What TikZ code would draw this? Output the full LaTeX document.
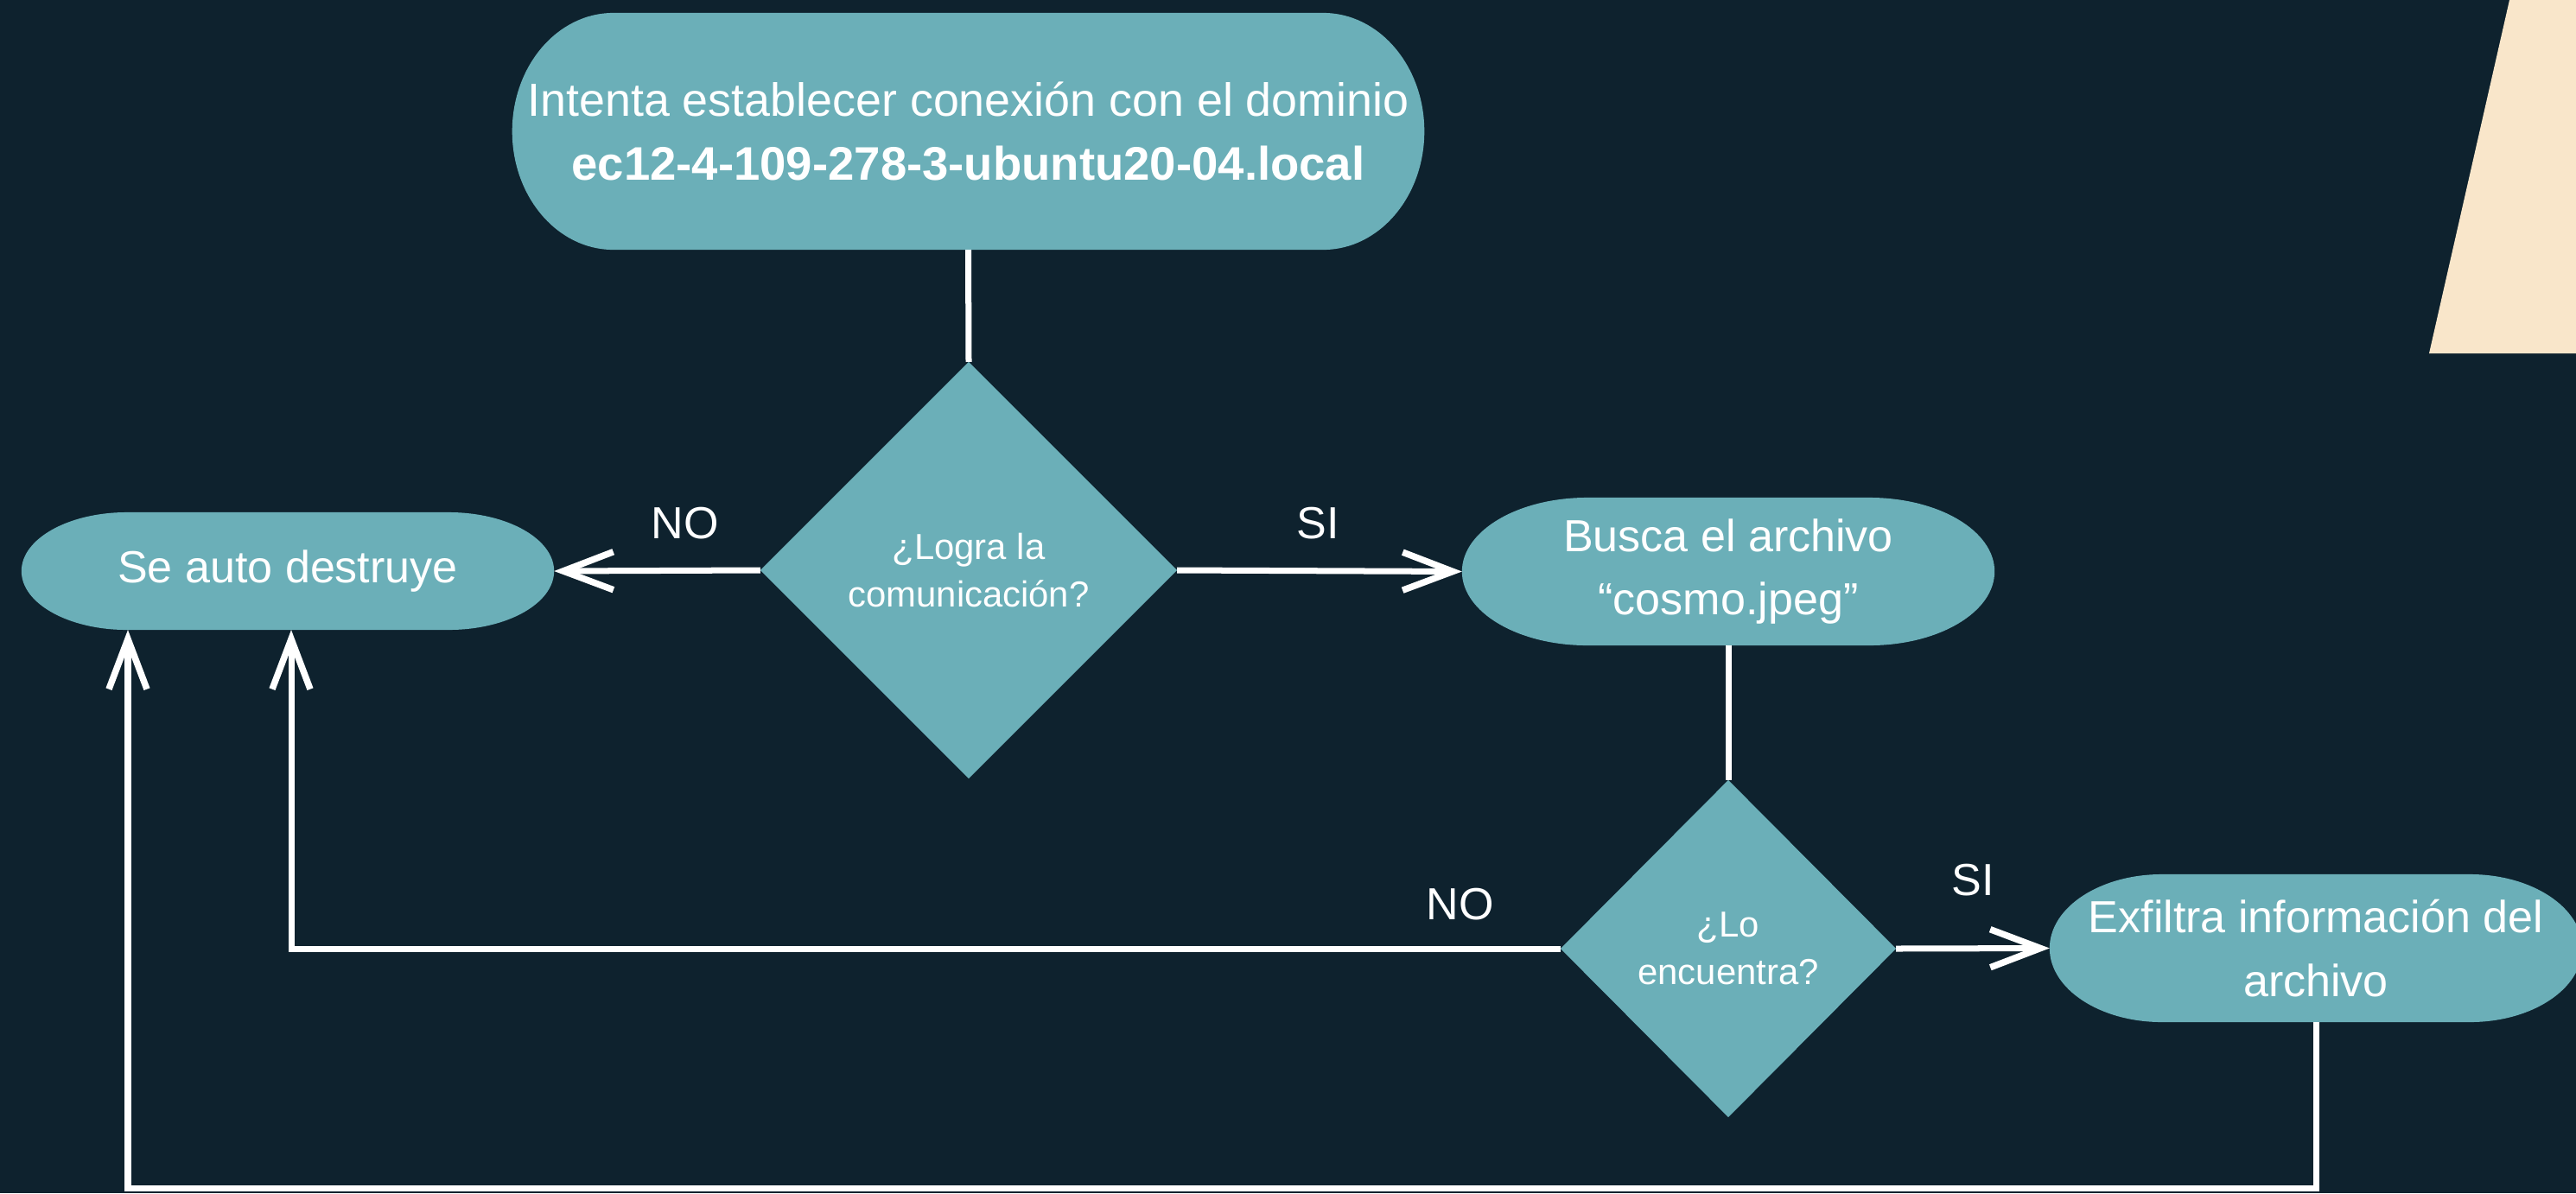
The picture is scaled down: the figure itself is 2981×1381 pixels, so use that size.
\documentclass[tikz,border=0pt]{standalone}
\usepackage{fontspec}
\setmainfont{Liberation Sans}
\usetikzlibrary{shapes.geometric,arrows.meta}
\definecolor{bg}{HTML}{0E222E}
\definecolor{tealf}{HTML}{6BAFB8}
\definecolor{beige}{HTML}{F9E6CA}
\tikzset{
  txt/.style={text=white, font=\fontsize{14.8}{20.8}\selectfont, align=center, inner sep=0pt},
  pill/.style n args={4}{txt, rectangle, outer sep=0pt, minimum width=#1, minimum height=#2,
    path picture={\fill[tealf] ([xshift=#3]path picture bounding box.north west)
      -- ([xshift=-#3]path picture bounding box.north east)
      arc[start angle=90,end angle=-90,x radius=#3,y radius=#4]
      -- ([xshift=#3]path picture bounding box.south west)
      arc[start angle=270,end angle=90,x radius=#3,y radius=#4] -- cycle;}},
  decision/.style={txt, diamond, fill=tealf, outer sep=0pt, font=\fontsize{11.9}{15.5}\selectfont},
  lbl/.style={txt},
  link/.style={draw=white, line width=0.07cm},
  arr/.style={link, line join=miter, -{Straight Barb[length=0.58cm,width=0.44cm,line width=0.075cm]}}
}
\begin{document}
\begin{tikzpicture}[x=0.01cm,y=0.01cm]
\fill[bg] (0,0) rectangle (2981,-1381);
\useasboundingbox (0,0) rectangle (2981,-1381);
\clip (0,0) rectangle (2981,-1381);
\fill[beige] (2904,0) -- (2811,-409) -- (2981,-409) -- (2981,0) -- cycle;

\node[pill={10.55cm}{2.74cm}{1.17cm}{1.37cm}, font=\fontsize{15.3}{20.8}\selectfont] (conn) at (1120.5,-152)
  {Intenta establecer conexión con el dominio\\{\fontsize{15.5}{20.8}\selectfont\bfseries ec12-4-109-278-3-ubuntu20-04.local}};
\node[decision, minimum width=4.82cm, minimum height=4.82cm] (d1) at (1121,-660)
  {¿Logra la\\comunicación?};
\node[pill={6.16cm}{1.36cm}{1.22cm}{0.68cm}] (sad) at (333,-661) {Se auto destruye};
\node[pill={6.16cm}{1.71cm}{1.45cm}{0.855cm}] (busca) at (2000,-661.5)
  {Busca el archivo\\“cosmo.jpeg”};
\node[decision, minimum width=3.88cm, minimum height=3.90cm] (d2) at (2000,-1098)
  {¿Lo\\encuentra?};
\node[pill={6.16cm}{1.71cm}{1.30cm}{0.855cm}] (exf) at (2680,-1097.5)
  {Exfiltra información del\\archivo};

\node[lbl] (no1) at (793,-606) {NO};
\node[lbl] (si1) at (1525,-606) {SI};
\node[lbl] (no2) at (1690,-1047) {NO};
\node[lbl] (si2) at (2283,-1019) {SI};

\draw[link] (conn.south) -- (d1.north);
\draw[arr] (d1.west) -- (sad.east);
\draw[arr] (d1.east) -- (busca.west);
\draw[link] (busca.south) -- (d2.north);
\draw[arr] (d2.east) -- (exf.west);
\draw[arr] (d2.west) -| ([xshift=0.04cm]sad.south);
\coordinate (bl) at (148,-1375);
\draw[arr] (exf.south) |- (bl) -- (bl |- sad.south);
\end{tikzpicture}
\end{document}
